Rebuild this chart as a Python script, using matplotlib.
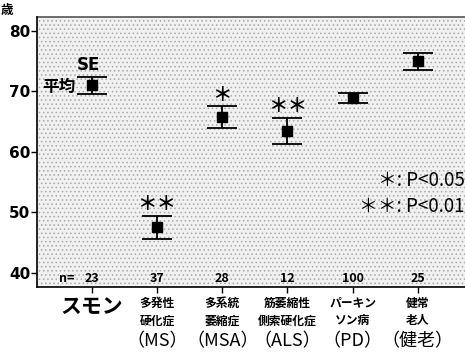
import matplotlib.pyplot as plt
import numpy as np

plt.rcParams['font.family'] = ['Noto Sans CJK JP', 'DejaVu Sans']
plt.rcParams['hatch.linewidth'] = 0.6

groups = ['スモン', '多発性\n硬化症', '多系統\n萎縮症', '筋萎縮性\n側索硬化症', 'パーキン\nソン病', '健常\n老人']
abbrev = ['', '（MS）', '（MSA）', '（ALS）', '（PD）', '（健老）']
n_counts = ['23', '37', '28', '12', '100', '25']
mean_age = [71.0, 47.5, 65.8, 63.4, 68.9, 75.0]
se_upper = [72.4, 49.4, 67.5, 65.6, 69.8, 76.4]
se_lower = [69.6, 45.6, 64.0, 61.3, 68.1, 73.6]
stars = ['', '＊＊', '＊', '＊＊', '', '']

x = np.arange(len(groups))
mean_age = np.array(mean_age)
yerr = [mean_age - np.array(se_lower), np.array(se_upper) - mean_age]

fig = plt.figure(figsize=(4.65, 3.54), dpi=100)
ax = fig.add_axes([0.0796, 0.189, 0.93, 0.763])
ax.set_facecolor('#f1f1f1')
ax.add_patch(plt.Rectangle((0, 0), 1, 1, transform=ax.transAxes, facecolor='none',
                           edgecolor='#a8a8a8', hatch='....', lw=0, zorder=0))

ax.errorbar(x, mean_age, yerr=yerr, fmt='s', color='black', ms=7.5,
            capsize=11, elinewidth=1.3, capthick=1.3, zorder=3)

for xi, up, s in zip(x, se_upper, stars):
    if s:
        ax.text(xi, up + 0.3, s, ha='center', va='bottom', fontsize=14, fontweight='bold')

ax.text(x[0] - 0.05, se_upper[0] + 0.4, 'SE', ha='center', va='bottom', fontsize=12, fontweight='bold',
        family='DejaVu Sans')
ax.text(x[0] - 0.25, mean_age[0] - 0.3, '平均', ha='right', va='center', fontsize=12, fontweight='bold')

for xi, n in zip(x, n_counts):
    ax.text(xi, 38.0, n, ha='center', va='bottom', fontsize=9, fontweight='bold')
ax.text(x[0] - 0.27, 38.0, 'n=', ha='right', va='bottom', fontsize=9, fontweight='bold')

ax.text(5.72, 55.3, '＊: P<0.05', ha='right', va='center', fontsize=13.5)
ax.text(5.72, 51.0, '＊＊: P<0.01', ha='right', va='center', fontsize=13.5)

ax.set_xlim(-0.84, 5.79)
ax.set_ylim(37.6, 82.3)
ax.set_yticks([40, 50, 60, 70, 80])
ax.set_yticklabels(['40', '50', '60', '70', '80'], fontweight='bold', fontsize=11, family='DejaVu Sans')
ax.set_xticks(x)
ax.set_xticklabels([])
ax.tick_params(axis='y', length=4, width=1, pad=1)
ax.tick_params(axis='x', length=4, width=1, direction='out')
ax.text(-0.085, 1.0, '歳', transform=ax.transAxes, ha='left', va='bottom', fontsize=9, fontweight='bold')

for side in ['top', 'right']:
    ax.spines[side].set_visible(False)
ax.spines['left'].set_linewidth(1.2)
ax.spines['bottom'].set_linewidth(1.2)
ax.axhline(82.3, color='#555555', lw=1.2, clip_on=False)

# category labels under the axis, placed in figure coordinates
fy = lambda px: 1 - px / 354
for xi, g, a in zip(x, groups, abbrev):
    xf = fig.transFigure.inverted().transform(ax.transData.transform((xi, 40)))[0]
    if xi == 0:
        fig.text(xf, fy(306), g, ha='center', va='center', fontsize=15, fontweight='bold')
        continue
    fig.text(xf, fy(312), g, ha='center', va='center', fontsize=8.5, fontweight='bold', linespacing=1.45)
    fig.text(xf, fy(341), a, ha='center', va='center', fontsize=13)

fig.savefig('out.png', dpi=100)
